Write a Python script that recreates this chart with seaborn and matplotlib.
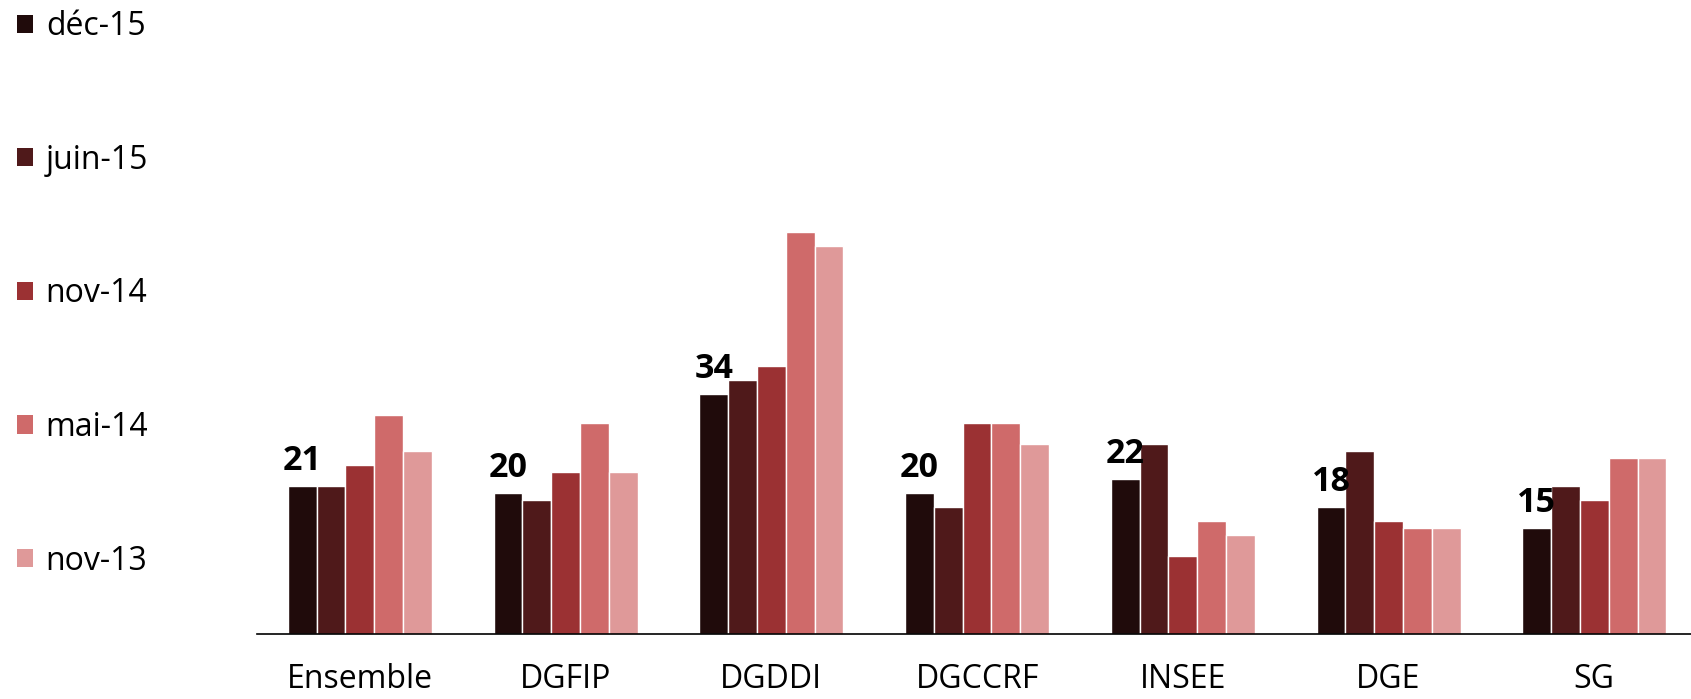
import matplotlib
matplotlib.use("Agg")
import matplotlib.pyplot as plt
import pandas as pd
import seaborn as sns
from matplotlib.patches import Patch

categories = ["Ensemble", "DGFIP", "DGDDI", "DGCCRF", "INSEE", "DGE", "SG"]
periods = ["déc-15", "juin-15", "nov-14", "mai-14", "nov-13"]
dec15 = [21, 20, 34, 20, 22, 18, 15]
juin15 = [21, 19, 36, 18, 27, 26, 21]
nov14 = [24, 23, 38, 30, 11, 16, 19]
mai14 = [31, 30, 57, 30, 16, 15, 25]
nov13 = [26, 23, 55, 27, 14, 15, 25]
colors = ["#200b0b", "#4f191a", "#9b3133", "#cf6a6a", "#df9999"]

series = [dec15, juin15, nov14, mai14, nov13]
rows = []
for period, vals in zip(periods, series):
    for cat, v in zip(categories, vals):
        rows.append({"categorie": cat, "periode": period, "valeur": v})
df = pd.DataFrame(rows)

sns.set_style("white")
plt.rcParams["font.family"] = ["Open Sans", "DejaVu Sans"]
plt.rcParams["text.color"] = "black"
plt.rcParams["xtick.color"] = "black"
plt.rcParams["xtick.labelcolor"] = "black"

W, H = 1691, 699
fig = plt.figure(figsize=(W / 100, H / 100), dpi=100)
px_per_unit = 7.05
ymax = 60
ax = fig.add_axes([257 / W, (H - 634) / H, (W - 257) / W, ymax * px_per_unit / H])

sns.barplot(data=df, x="categorie", y="valeur", hue="periode", order=categories,
            hue_order=periods, palette=colors, width=0.7, ax=ax,
            edgecolor="white", linewidth=1, saturation=1)

ax.set_ylim(0, ymax)
ax.set_xlim(-0.5, 6.47)
ax.set_xlabel("")
ax.set_ylabel("")
ax.set_yticks([])
for s in ["top", "right", "left"]:
    ax.spines[s].set_visible(False)
ax.spines["bottom"].set_color("black")
ax.spines["bottom"].set_linewidth(1.2)
ax.tick_params(axis="x", length=0, pad=21, labelsize=23, labelcolor="black")

ax.bar_label(ax.containers[0], fontsize=24.5, fontweight="bold", padding=6, color="black")

ax.get_legend().remove()
handles = [Patch(facecolor=c, edgecolor="none") for c in colors]
fig.legend(handles, periods, loc="upper left", bbox_to_anchor=(17 / W, 1 - 10 / H),
           frameon=False, fontsize=23, labelspacing=3.15, handlelength=0.5,
           handleheight=0.5, handletextpad=0.4, borderpad=0, borderaxespad=0,
           labelcolor="black")

fig.savefig("out.png", dpi=100)
